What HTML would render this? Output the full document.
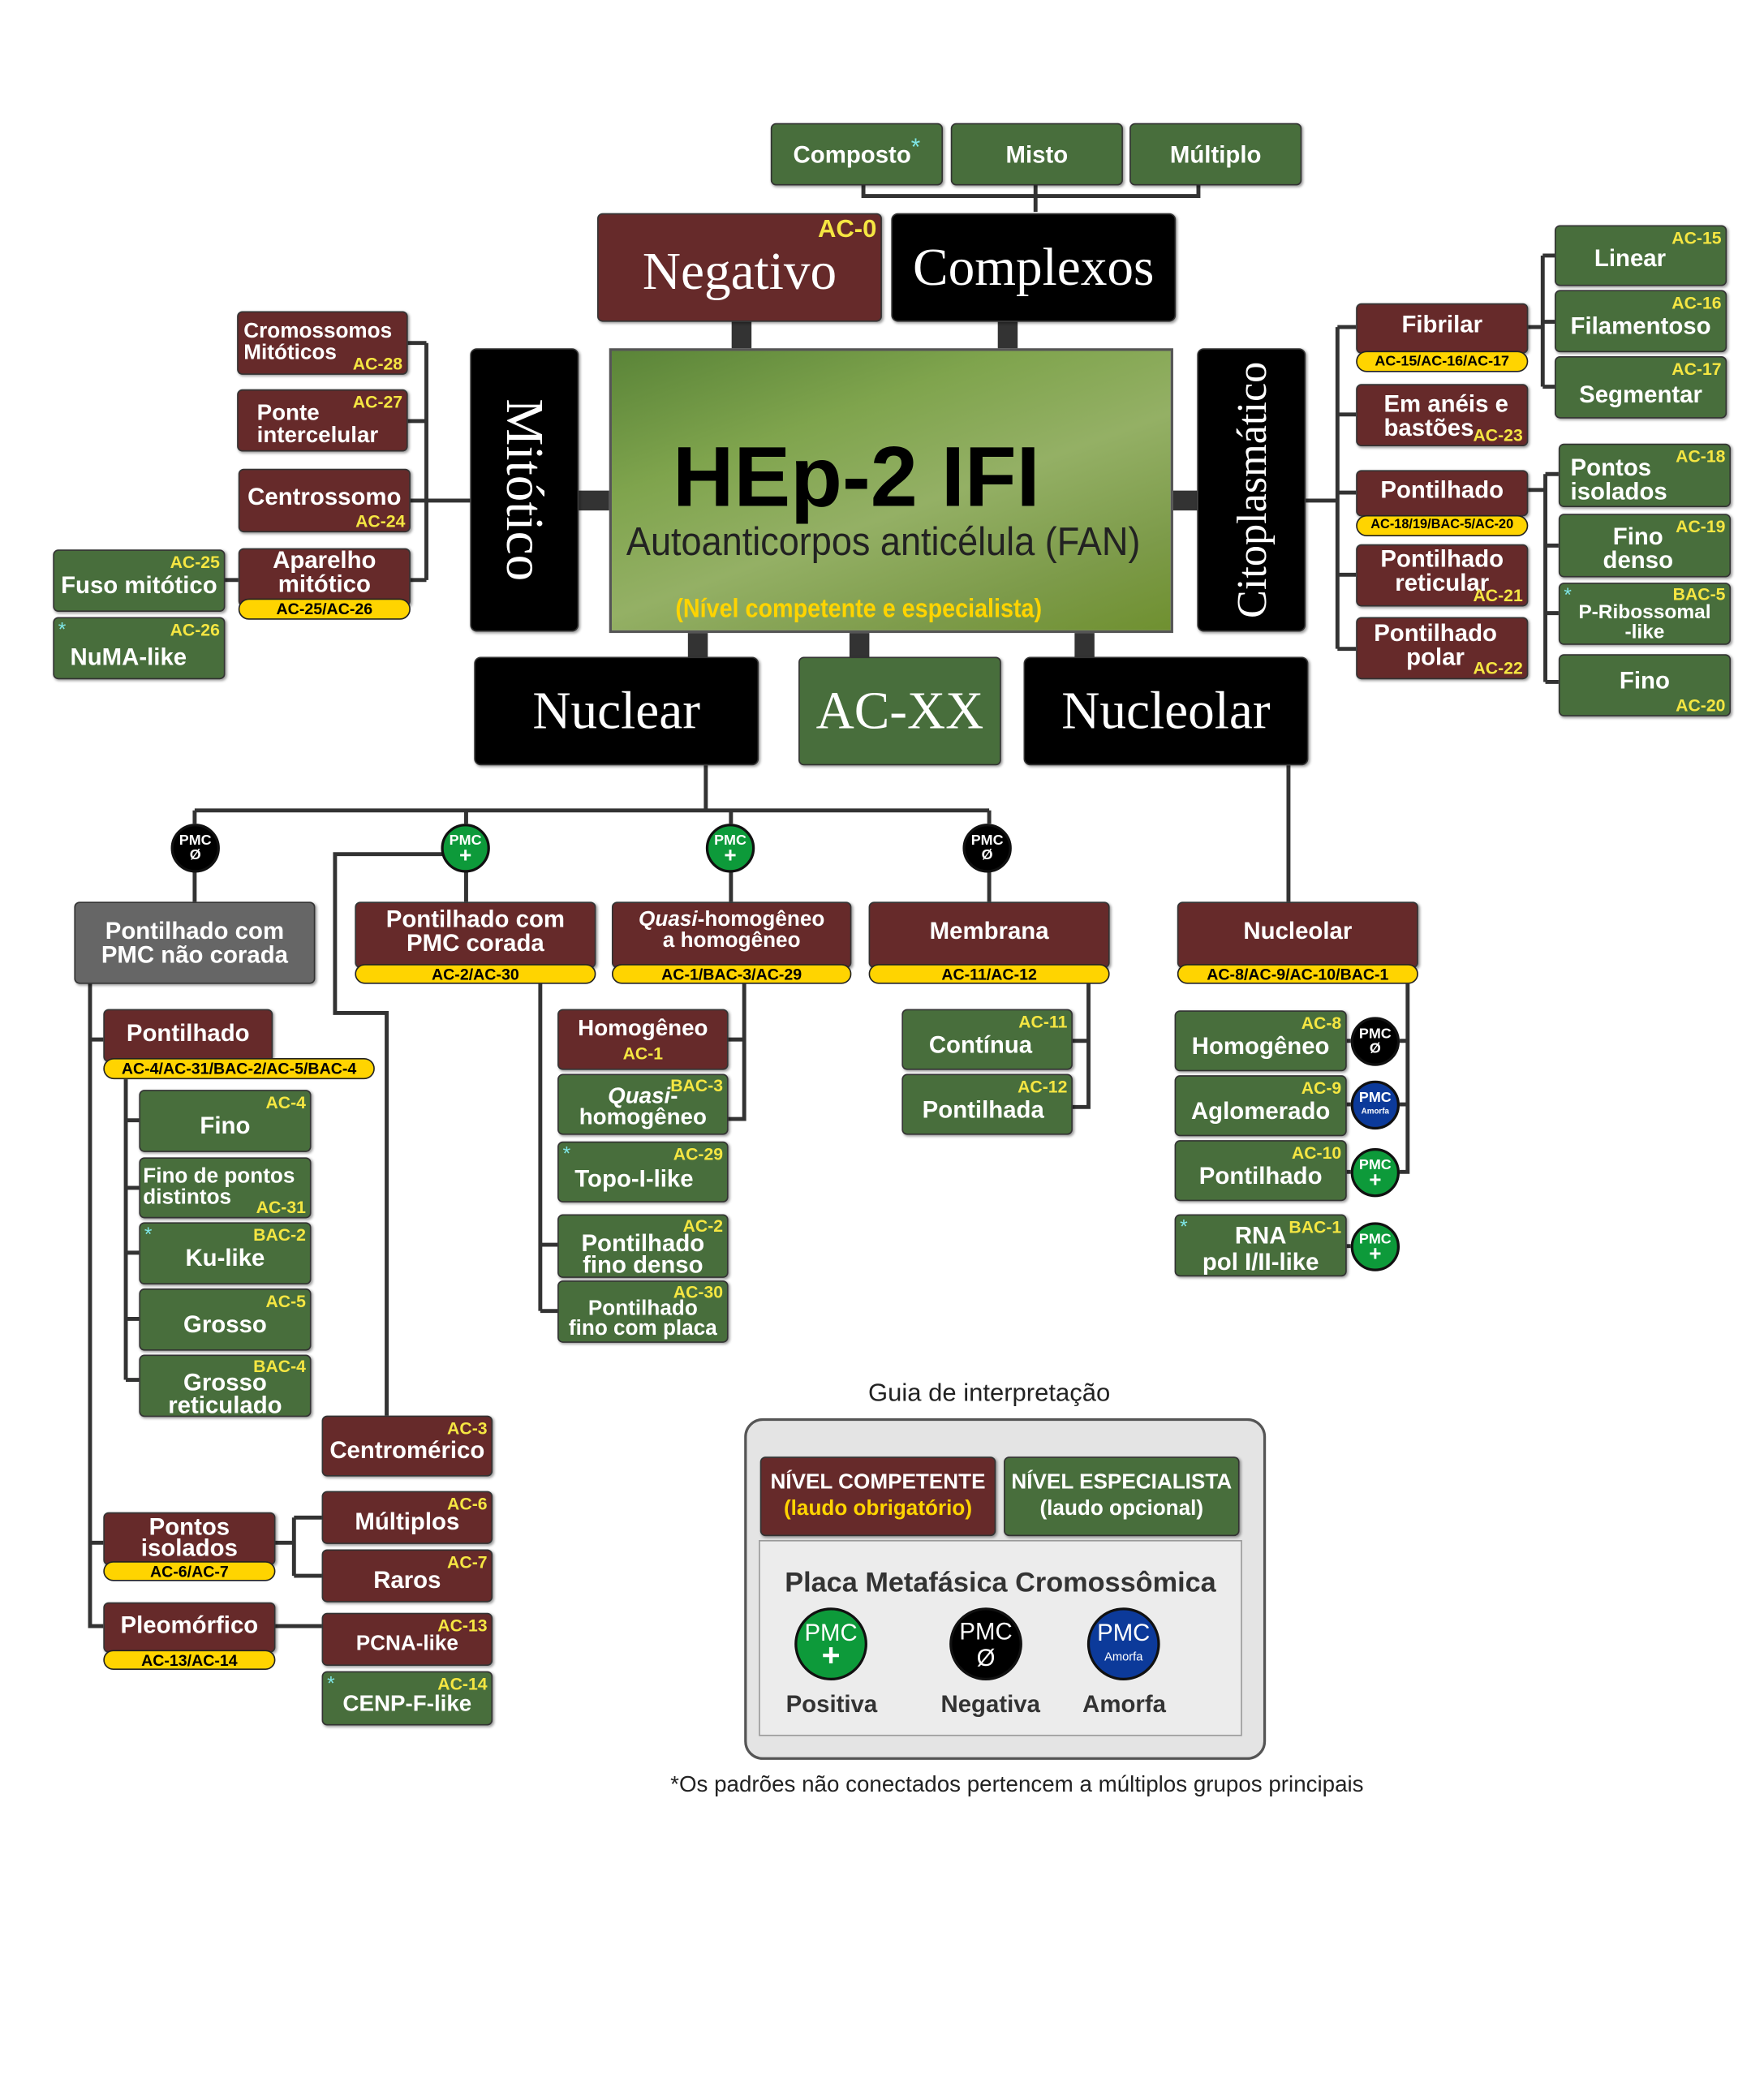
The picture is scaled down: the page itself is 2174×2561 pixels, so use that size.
<!DOCTYPE html>
<html><head><meta charset="utf-8"><style>
body{margin:0;background:#fff}
#w{position:absolute;left:0;top:0;width:1332px;height:1569px;transform:scale(1.632);transform-origin:0 0;font-family:"Liberation Sans",sans-serif}
.b{position:absolute;display:flex;align-items:center;justify-content:center;text-align:center;color:#fff;font-weight:bold;font-size:18px;line-height:1;border-radius:4px;box-sizing:border-box;border:1px solid #333;box-shadow:1px 1px 2px rgba(0,0,0,.4)}
.r{background:#662a2a}.g{background:#486e3c}.k{background:#000;border-radius:5px}.gr{background:#666}
.t{position:absolute;top:2px;right:3px;color:#f5e642;font-size:13px}
.s{position:absolute;top:1px;left:3px;color:#7fe6e6;font-size:15px;font-weight:normal}
.y{position:absolute;background:#ffd400;border:1px solid #222;border-radius:8px;color:#000;font-weight:bold;font-size:12px;line-height:14px;text-align:center;box-sizing:border-box;white-space:nowrap}
.big{font-family:"Liberation Serif",serif;font-weight:normal;font-size:40px}
.c{position:absolute;border-radius:50%;border:2px solid #111;box-sizing:border-box;color:#fff;font-weight:bold;font-size:11px;line-height:11px;text-align:center;display:flex;flex-direction:column;justify-content:center;align-items:center}
.cb{background:#000}.cg{background:#0d9a3a}.cu{background:#0c3a9a}
svg{position:absolute;left:0;top:0}
</style></head><body><div id="w">
<svg width="1332" height="1569" fill="none" stroke="#333" stroke-width="3">
<path d="M652 140V148H905V140M782 140V160M852 148"/>
<path d="M560 243V263M761 243V263M527 478V496M649 478V496M819 478V496M437 378H460M886 378H904" stroke-width="15"/>
<path d="M308 259H322M308 318H322M310 378H355M310 438H322M322 259V438M170 438H180"/>
<path d="M986 378H1010M1010 247V490M1010 247H1024M1010 313H1024M1010 372H1024M1010 434H1024M1010 490H1024M1154 247H1165M1165 193V292M1165 193H1174M1165 243H1174M1165 292H1174M1154 370H1167M1167 358V515M1167 358H1177M1167 412H1177M1167 463H1177M1167 515H1177"/>
<path d="M533 578V612M147 612H747M147 612V622M352 612V622M552 612V622M747 612V622M147 658V681M352 658V681M552 658V681M747 658V681M973 578V681"/>
<path d="M334 645H253V765H292V1069"/>
<path d="M68 743V1228H78M68 785H78M68 1165H78M95 815V1042M95 846H105M95 897H105M95 946H105M95 996H105M95 1042H105"/>
<path d="M208 1165H222M222 1146V1190M222 1146H243M222 1190H243M208 1228H243"/>
<path d="M408 743V990M408 940H421M408 990H421M562 743V845H550M550 785H562"/>
<path d="M822 743V836H810M810 786H822"/>
<path d="M1063 743V885H1057M1057 786H1063M1057 834H1063M1017 786H1020M1017 834H1020M1017 885H1020M1017 941H1020"/>
</svg>
<div class="b g" style="left:582px;top:93px;width:130px;height:47px">Composto<span style="color:#7fe6e6;font-weight:normal;align-self:flex-start;margin-top:8px">*</span></div>
<div class="b g" style="left:718px;top:93px;width:130px;height:47px">Misto</div>
<div class="b g" style="left:853px;top:93px;width:130px;height:47px">Múltiplo</div>
<div class="b r big" style="left:451px;top:161px;width:215px;height:82px;padding-top:6px">Negativo<span class="t" style="font-size:19px;font-family:'Liberation Sans';font-weight:bold">AC-0</span></div>
<div class="b k big" style="left:673px;top:161px;width:215px;height:82px">Complexos</div>
<div style="position:absolute;left:460px;top:263px;width:426px;height:215px;box-sizing:border-box;border:2px solid #555;background:linear-gradient(160deg,#5a8438 0%,#7fa44d 30%,#94b065 55%,#7d9b4a 80%,#6f9030 100%)">
<div style="position:absolute;left:46px;top:58px;font-weight:bold;font-size:64px;color:#000">HEp-2 IFI</div>
<div style="position:absolute;left:11px;top:128px;font-size:30px;color:#222;transform:scaleX(.92);transform-origin:0 0;white-space:nowrap">Autoanticorpos anticélula (FAN)</div>
<div style="position:absolute;left:48px;top:184px;font-size:20px;font-weight:bold;color:#ffd400;transform:scaleX(.88);transform-origin:0 0;white-space:nowrap">(Nível competente e especialista)</div>
</div>
<div class="b k big" style="left:355px;top:263px;width:82px;height:214px"><span style="transform:rotate(90deg);display:block;white-space:nowrap">Mitótico</span></div>
<div class="b k big" style="left:904px;top:263px;width:82px;height:214px;font-size:32px"><span style="transform:rotate(-90deg);display:block;white-space:nowrap">Citoplasmático</span></div>
<div class="b k big" style="left:358px;top:496px;width:215px;height:82px">Nuclear</div>
<div class="b g big" style="left:603px;top:496px;width:153px;height:82px">AC-XX</div>
<div class="b k big" style="left:773px;top:496px;width:215px;height:82px">Nucleolar</div>

<div class="b r" style="left:179px;top:235px;width:129px;height:48px;font-size:16px;justify-content:flex-start;padding-left:4px;text-align:left">Cromossomos<br>Mitóticos<span class="t" style="top:auto;bottom:1px">AC-28</span></div>
<div class="b r" style="left:179px;top:294px;width:129px;height:47px;font-size:17px;justify-content:flex-start;padding-left:14px;text-align:left;padding-top:4px">Ponte<br>intercelular<span class="t">AC-27</span></div>
<div class="b r" style="left:180px;top:354px;width:130px;height:48px;padding-bottom:6px">Centrossomo<span class="t" style="top:auto;bottom:1px">AC-24</span></div>
<div class="b r" style="left:180px;top:414px;width:130px;height:44px;padding-bottom:8px">Aparelho<br>mitótico</div>
<div class="y" style="left:180px;top:452px;width:130px;height:16px">AC-25/AC-26</div>
<div class="b g" style="left:40px;top:415px;width:130px;height:47px;padding-top:6px">Fuso mitótico<span class="t">AC-25</span></div>
<div class="b g" style="left:40px;top:466px;width:130px;height:47px;justify-content:flex-start;padding-left:12px;padding-top:12px">NuMA-like<span class="s">*</span><span class="t">AC-26</span></div>

<div class="b r" style="left:1024px;top:229px;width:130px;height:38px;padding-bottom:6px">Fibrilar</div>
<div class="y" style="left:1024px;top:265px;width:130px;height:16px;font-size:11px">AC-15/AC-16/AC-17</div>
<div class="b r" style="left:1024px;top:290px;width:130px;height:47px;justify-content:flex-start;padding-left:20px;text-align:left">Em anéis e<br>bastões<span class="t" style="top:auto;bottom:1px">AC-23</span></div>
<div class="b r" style="left:1024px;top:355px;width:130px;height:35px;padding-bottom:6px">Pontilhado</div>
<div class="y" style="left:1024px;top:389px;width:130px;height:16px;font-size:10px">AC-18/19/BAC-5/AC-20</div>
<div class="b r" style="left:1024px;top:411px;width:130px;height:47px;padding-bottom:8px">Pontilhado<br>reticular<span class="t" style="top:auto;bottom:1px">AC-21</span></div>
<div class="b r" style="left:1024px;top:466px;width:130px;height:47px;padding-bottom:6px;padding-right:10px">Pontilhado<br>polar<span class="t" style="top:auto;bottom:1px">AC-22</span></div>
<div class="b g" style="left:1174px;top:170px;width:130px;height:46px;padding-top:4px;padding-right:16px">Linear<span class="t">AC-15</span></div>
<div class="b g" style="left:1174px;top:219px;width:130px;height:47px;padding-top:6px">Filamentoso<span class="t">AC-16</span></div>
<div class="b g" style="left:1174px;top:269px;width:130px;height:47px;padding-top:10px">Segmentar<span class="t">AC-17</span></div>
<div class="b g" style="left:1177px;top:335px;width:130px;height:48px;justify-content:flex-start;padding-left:8px;padding-top:6px;text-align:left">Pontos<br>isolados<span class="t">AC-18</span></div>
<div class="b g" style="left:1177px;top:388px;width:130px;height:48px;padding-top:4px;padding-right:10px">Fino<br>denso<span class="t">AC-19</span></div>
<div class="b g" style="left:1177px;top:440px;width:130px;height:47px;font-size:15px;padding-top:12px">P-Ribossomal<br>-like<span class="s">*</span><span class="t" style="top:1px">BAC-5</span></div>
<div class="b g" style="left:1177px;top:494px;width:130px;height:47px;padding-bottom:8px">Fino<span class="t" style="top:auto;bottom:1px">AC-20</span></div>

<div class="c cb" style="left:129px;top:622px;width:37px;height:37px">PMC<br>Ø</div>
<div class="c cg" style="left:333px;top:622px;width:37px;height:37px">PMC<br><span style="font-size:16px">+</span></div>
<div class="c cg" style="left:533px;top:622px;width:37px;height:37px">PMC<br><span style="font-size:16px">+</span></div>
<div class="c cb" style="left:727px;top:622px;width:37px;height:37px">PMC<br>Ø</div>

<div class="b gr" style="left:56px;top:681px;width:182px;height:62px;font-weight:bold">Pontilhado com<br>PMC não corada</div>
<div class="b r" style="left:268px;top:681px;width:182px;height:50px;padding-bottom:6px">Pontilhado com<br>PMC corada</div>
<div class="y" style="left:268px;top:728px;width:182px;height:15px">AC-2/AC-30</div>
<div class="b r" style="left:462px;top:681px;width:181px;height:50px;font-size:16px;padding-bottom:6px"><span><i>Quasi</i>-homogêneo<br>a homogêneo</span></div>
<div class="y" style="left:462px;top:728px;width:181px;height:15px">AC-1/BAC-3/AC-29</div>
<div class="b r" style="left:656px;top:681px;width:182px;height:50px;padding-bottom:6px">Membrana</div>
<div class="y" style="left:656px;top:728px;width:182px;height:15px">AC-11/AC-12</div>
<div class="b r" style="left:889px;top:681px;width:182px;height:50px;padding-bottom:6px">Nucleolar</div>
<div class="y" style="left:889px;top:728px;width:182px;height:15px">AC-8/AC-9/AC-10/BAC-1</div>

<div class="b r" style="left:78px;top:762px;width:128px;height:40px;padding-bottom:4px">Pontilhado</div>
<div class="y" style="left:78px;top:799px;width:205px;height:16px">AC-4/AC-31/BAC-2/AC-5/BAC-4</div>
<div class="b g" style="left:105px;top:823px;width:130px;height:47px;padding-top:6px">Fino<span class="t">AC-4</span></div>
<div class="b g" style="left:105px;top:874px;width:130px;height:46px;font-size:16px;justify-content:flex-start;padding-left:2px;text-align:left">Fino de pontos<br>distintos<span class="t" style="top:auto;bottom:1px">AC-31</span></div>
<div class="b g" style="left:105px;top:923px;width:130px;height:47px;padding-top:6px">Ku-like<span class="s">*</span><span class="t">BAC-2</span></div>
<div class="b g" style="left:105px;top:973px;width:130px;height:47px;padding-top:6px">Grosso<span class="t">AC-5</span></div>
<div class="b g" style="left:105px;top:1023px;width:130px;height:47px;padding-top:12px;line-height:.9">Grosso<br>reticulado<span class="t">BAC-4</span></div>
<div class="b r" style="left:243px;top:1069px;width:129px;height:46px;padding-top:6px">Centromérico<span class="t">AC-3</span></div>
<div class="b r" style="left:78px;top:1142px;width:130px;height:40px;padding-bottom:2px;line-height:.9">Pontos<br>isolados</div>
<div class="y" style="left:78px;top:1179px;width:130px;height:15px">AC-6/AC-7</div>
<div class="b r" style="left:243px;top:1126px;width:129px;height:40px;padding-top:6px">Múltiplos<span class="t">AC-6</span></div>
<div class="b r" style="left:243px;top:1170px;width:129px;height:40px;padding-top:6px">Raros<span class="t">AC-7</span></div>
<div class="b r" style="left:78px;top:1210px;width:130px;height:38px;padding-bottom:4px">Pleomórfico</div>
<div class="y" style="left:78px;top:1246px;width:130px;height:15px">AC-13/AC-14</div>
<div class="b r" style="left:243px;top:1218px;width:129px;height:40px;font-size:16px;padding-top:8px">PCNA-like<span class="t">AC-13</span></div>
<div class="b g" style="left:243px;top:1262px;width:129px;height:41px;font-size:17px;padding-top:8px">CENP-F-like<span class="s">*</span><span class="t">AC-14</span></div>

<div class="b r" style="left:421px;top:762px;width:129px;height:46px;font-size:17px;flex-direction:column">Homogêneo<span style="color:#f5e642;font-size:13px;margin-top:4px">AC-1</span></div>
<div class="b g" style="left:421px;top:811px;width:129px;height:46px;font-size:17px;padding-top:4px;line-height:.95"><span><i>Quasi</i>-<br>homogêneo</span><span class="t">BAC-3</span></div>
<div class="b g" style="left:421px;top:862px;width:129px;height:46px;justify-content:flex-start;padding-left:12px;padding-top:10px">Topo-I-like<span class="s">*</span><span class="t">AC-29</span></div>
<div class="b g" style="left:421px;top:917px;width:129px;height:48px;padding-top:12px;line-height:.9">Pontilhado<br>fino denso<span class="t">AC-2</span></div>
<div class="b g" style="left:421px;top:967px;width:129px;height:47px;font-size:16px;padding-top:12px;line-height:.9">Pontilhado<br>fino com placa<span class="t">AC-30</span></div>
<div class="b g" style="left:681px;top:762px;width:129px;height:46px;padding-top:8px;padding-right:10px">Contínua<span class="t">AC-11</span></div>
<div class="b g" style="left:681px;top:811px;width:129px;height:46px;padding-top:8px;padding-right:6px">Pontilhada<span class="t">AC-12</span></div>

<div class="b g" style="left:887px;top:763px;width:130px;height:46px;padding-top:8px">Homogêneo<span class="t">AC-8</span></div>
<div class="b g" style="left:887px;top:812px;width:130px;height:46px;padding-top:8px">Aglomerado<span class="t">AC-9</span></div>
<div class="b g" style="left:887px;top:861px;width:130px;height:46px;padding-top:8px">Pontilhado<span class="t">AC-10</span></div>
<div class="b g" style="left:887px;top:917px;width:130px;height:47px;padding-top:6px;line-height:1.1">RNA<br>pol I/II-like<span class="s">*</span><span class="t">BAC-1</span></div>
<div class="c cb" style="left:1020px;top:768px;width:37px;height:37px">PMC<br>Ø</div>
<div class="c cu" style="left:1020px;top:816px;width:37px;height:37px">PMC<br><span style="font-size:6px">Amorfa</span></div>
<div class="c cg" style="left:1020px;top:867px;width:37px;height:37px">PMC<br><span style="font-size:16px">+</span></div>
<div class="c cg" style="left:1020px;top:923px;width:37px;height:37px">PMC<br><span style="font-size:16px">+</span></div>

<div style="position:absolute;left:550px;top:1042px;width:394px;text-align:center;font-size:19px;color:#222">Guia de interpretação</div>
<div style="position:absolute;left:562px;top:1071px;width:394px;height:258px;box-sizing:border-box;border:2px solid #555;border-radius:14px;background:#e4e4e4"></div>
<div class="b r" style="left:574px;top:1100px;width:178px;height:60px;font-size:16px;line-height:1.25"><span>NÍVEL COMPETENTE<br><span style="color:#ffd400">(laudo obrigatório)</span></span></div>
<div class="b g" style="left:758px;top:1100px;width:178px;height:60px;font-size:16px;line-height:1.25"><span>NÍVEL ESPECIALISTA<br>(laudo opcional)</span></div>
<div style="position:absolute;left:573px;top:1163px;width:365px;height:148px;box-sizing:border-box;border:1px solid #999;background:#ececec"></div>
<div style="position:absolute;left:573px;top:1184px;width:365px;text-align:center;font-weight:bold;font-size:21px;color:#333">Placa Metafásica Cromossômica</div>
<div class="c cg" style="left:600px;top:1214px;width:55px;height:55px;font-size:18px;font-weight:normal;line-height:18px">PMC<br><span style="font-size:24px;font-weight:bold">+</span></div>
<div class="c cb" style="left:717px;top:1214px;width:55px;height:55px;font-size:18px;font-weight:normal;line-height:20px">PMC<br>Ø</div>
<div class="c cu" style="left:821px;top:1214px;width:55px;height:55px;font-size:18px;font-weight:normal;line-height:18px">PMC<br><span style="font-size:9px">Amorfa</span></div>
<div style="position:absolute;left:578px;top:1277px;width:100px;text-align:center;font-weight:bold;font-size:18px;color:#333">Positiva</div>
<div style="position:absolute;left:698px;top:1277px;width:100px;text-align:center;font-weight:bold;font-size:18px;color:#333">Negativa</div>
<div style="position:absolute;left:799px;top:1277px;width:100px;text-align:center;font-weight:bold;font-size:18px;color:#333">Amorfa</div>
<div style="position:absolute;left:468px;top:1338px;width:600px;text-align:center;font-size:17px;color:#222">*Os padrões não conectados pertencem a múltiplos grupos principais</div>
</div></body></html>
